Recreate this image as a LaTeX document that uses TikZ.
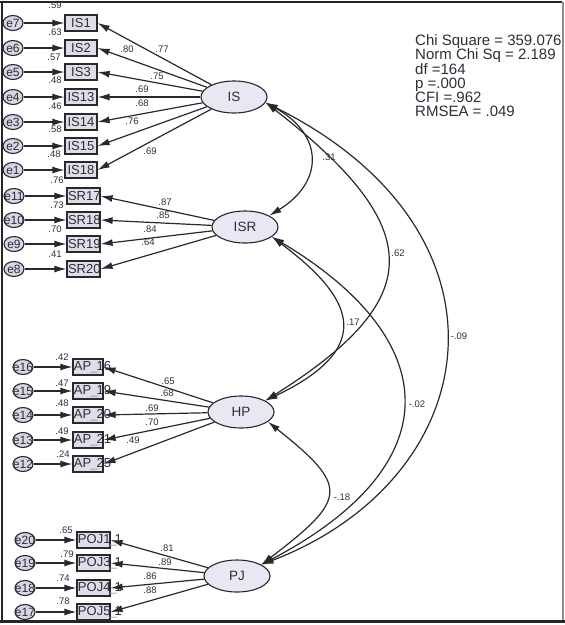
\documentclass[tikz,border=0pt]{standalone}
\usepackage{fontspec}
\setmainfont{Liberation Sans}
\usetikzlibrary{shapes.geometric,arrows.meta}
\definecolor{ink}{RGB}{45,45,55}
\definecolor{boxfill}{RGB}{222,222,234}
\definecolor{latfill}{RGB}{232,232,245}
\definecolor{errfill}{RGB}{214,214,228}
\definecolor{edge}{RGB}{40,40,45}
\begin{document}
\begin{tikzpicture}[x=1pt,y=-1pt,
  obs/.style={draw=edge, fill=boxfill, line width=1.2pt, minimum height=16pt,
    inner sep=0pt, text=ink, font=\fontsize{13}{13}\selectfont},
  lat/.style={ellipse, draw=edge, fill=latfill, line width=1.1pt, minimum width=66pt,
    minimum height=32pt, inner sep=0pt, text=ink, font=\fontsize{13.5}{13.5}\selectfont},
  err/.style={ellipse, draw=edge, fill=errfill, line width=1.1pt, minimum width=20pt,
    minimum height=15pt, inner sep=0pt, text=ink, font=\fontsize{12}{12}\selectfont},
  coef/.style={text=ink, inner sep=0pt, font=\fontsize{9.5}{9.5}\selectfont},
  reg/.style={-{Latex[length=12pt,width=7pt]}, line width=1.2pt, draw=edge},
  cov/.style={{Latex[length=12pt,width=7pt]}-{Latex[length=12pt,width=7pt]}, line width=1.2pt, draw=edge},
  stat/.style={text=ink, anchor=west, inner sep=0pt, text height=10pt, text depth=2.5pt,
    font=\fontsize{15}{15}\selectfont}]
\useasboundingbox (0,0) rectangle (565,625);

% outer frame
\draw[line width=2pt, black!85] (0,2) -- (562,2);
\draw[line width=2pt, black!85] (2,2) -- (2,621);
\draw[line width=1.6pt, black!45] (563,2) -- (563,621);
\draw[line width=2.6pt, black!85] (0,621.5) -- (565,621.5);

% latent variables
\node[lat] (IS)  at (234,97)  {IS};
\node[lat] (ISR) at (245,227) {ISR};
\node[lat] (HP)  at (241,412) {HP};
\node[lat] (PJ)  at (237,576) {PJ};

% IS indicators
\foreach \n/\txt/\en/\yy in {is1/IS1/e7/23, is2/IS2/e6/48, is3/IS3/e5/72,
    is13/IS13/e4/97, is14/IS14/e3/122, is15/IS15/e2/146, is18/IS18/e1/170}{
  \node[obs, minimum width=32pt] (\n) at (81,\yy) {\txt};
  \node[err] (\en) at (13,\yy) {\makebox[0pt]{\en}};
  \draw[reg] (\en) -- (\n);
  \draw[reg] (IS) -- (\n.east);
}

% ISR indicators
\foreach \n/\txt/\en/\yy in {sr17/SR17/e11/196, sr18/SR18/e10/220,
    sr19/SR19/e9/244, sr20/SR20/e8/269}{
  \node[obs, minimum width=33pt] (\n) at (83.5,\yy) {\makebox[33pt][l]{\hspace{1pt}\txt}};
  \node[err] (\en) at (14,\yy) {\makebox[0pt]{\en}};
  \draw[reg] (\en) -- (\n);
  \draw[reg] (ISR) -- (\n.east);
}

% HP indicators
\foreach \n/\txt/\en/\yy in {ap16/16/e16/367, ap19/19/e15/391, ap20/20/e14/415,
    ap21/21/e13/440, ap25/25/e12/464}{
  \node[obs, minimum width=30pt] (\n) at (88,\yy) {\makebox[30pt][l]{\hspace{1pt}AP\kern-1pt{\color{black!40}\_}\kern-1pt\txt}};
  \node[err] (\en) at (23,\yy) {\makebox[0pt]{\en}};
  \draw[reg] (\en) -- (\n);
  \draw[reg] (HP) -- (\n.east);
}

% PJ indicators
\foreach \n/\txt/\en/\yy in {poj1/POJ1/e20/540, poj3/POJ3/e19/563,
    poj4/POJ4/e18/588, poj5/POJ5/e17/612}{
  \node[obs, minimum width=33pt] (\n) at (93.5,\yy) {\makebox[33pt][l]{\hspace{1pt}\txt\kern-1pt{\color{black!40}\_}\kern-2pt1}};
  \node[err] (\en) at (25,\yy) {\makebox[0pt]{\en}};
  \draw[reg] (\en) -- (\n);
  \draw[reg] (PJ) -- (\n.east);
}

% covariances between the latent variables
\draw[cov] (IS.-10)  .. controls (324,135) and (324,182) .. (ISR.25);
\draw[cov] (IS.-10)  .. controls (430,230) and (425,300) .. (HP.25);
\draw[cov] (IS.-10)  .. controls (525,232) and (487,478) .. (PJ.25);
\draw[cov] (ISR.-20) .. controls (348,294) and (382,345) .. (HP.25);
\draw[cov] (ISR.-20) .. controls (443,339) and (453,464) .. (PJ.25);
\draw[cov] (HP.-20)  .. controls (350,487) and (347,499) .. (PJ.25);

% covariance estimates
\node[coef] (c1) at (329,157) {.31};
\node[coef] (c2) at (398,253) {.62};
\node[coef] (c3) at (459,336) {-.09};
\node[coef] (c4) at (353,322) {.17};
\node[coef] (c5) at (417,404) {-.02};
\node[coef] (c6) at (342,497) {-.18};

% standardized loadings
\foreach \xx/\yy/\v [count=\i] in {162/49/.77, 127/49/.80, 157/76/.75, 142/89/.69,
    142/103/.68, 132/121/.76, 150/151/.69, 165/202/.87, 163/215/.85, 150/229/.84,
    148/242/.64, 168/381/.65, 167/393/.68, 152/408/.69, 152/422/.70, 133/440/.49,
    167/548/.81, 165/562/.89, 150/576/.86, 150/590/.88}{
  \node[coef] (ld\i) at (\xx,\yy) {\v};
}

% squared multiple correlations
\foreach \xx/\yy/\v [count=\i] in {55/5/.59, 55/32/.63, 54/57/.57, 55/80/.48,
    55/106/.46, 55/129/.58, 54/154/.48, 57/180/.76, 57/205/.73, 55/229/.70,
    55/254/.41, 62/357/.42, 62/383/.47, 62/403/.48, 62/431/.49, 63/454/.24,
    66/530/.65, 67/554/.79, 63/578/.74, 63/601/.78}{
  \node[coef] (r\i) at (\xx,\yy) {\v};
}

% fit statistics
\node[stat] (s1) at (415,42)  {Chi Square = 359.076};
\node[stat] (s2) at (415,56)  {Norm Chi Sq = 2.189};
\node[stat] (s3) at (415,71)  {df =164};
\node[stat] (s4) at (415,85)  {p =.000};
\node[stat] (s5) at (415,99)  {CFI =.962};
\node[stat] (s6) at (415,113) {RMSEA = .049};
\end{tikzpicture}
\end{document}
